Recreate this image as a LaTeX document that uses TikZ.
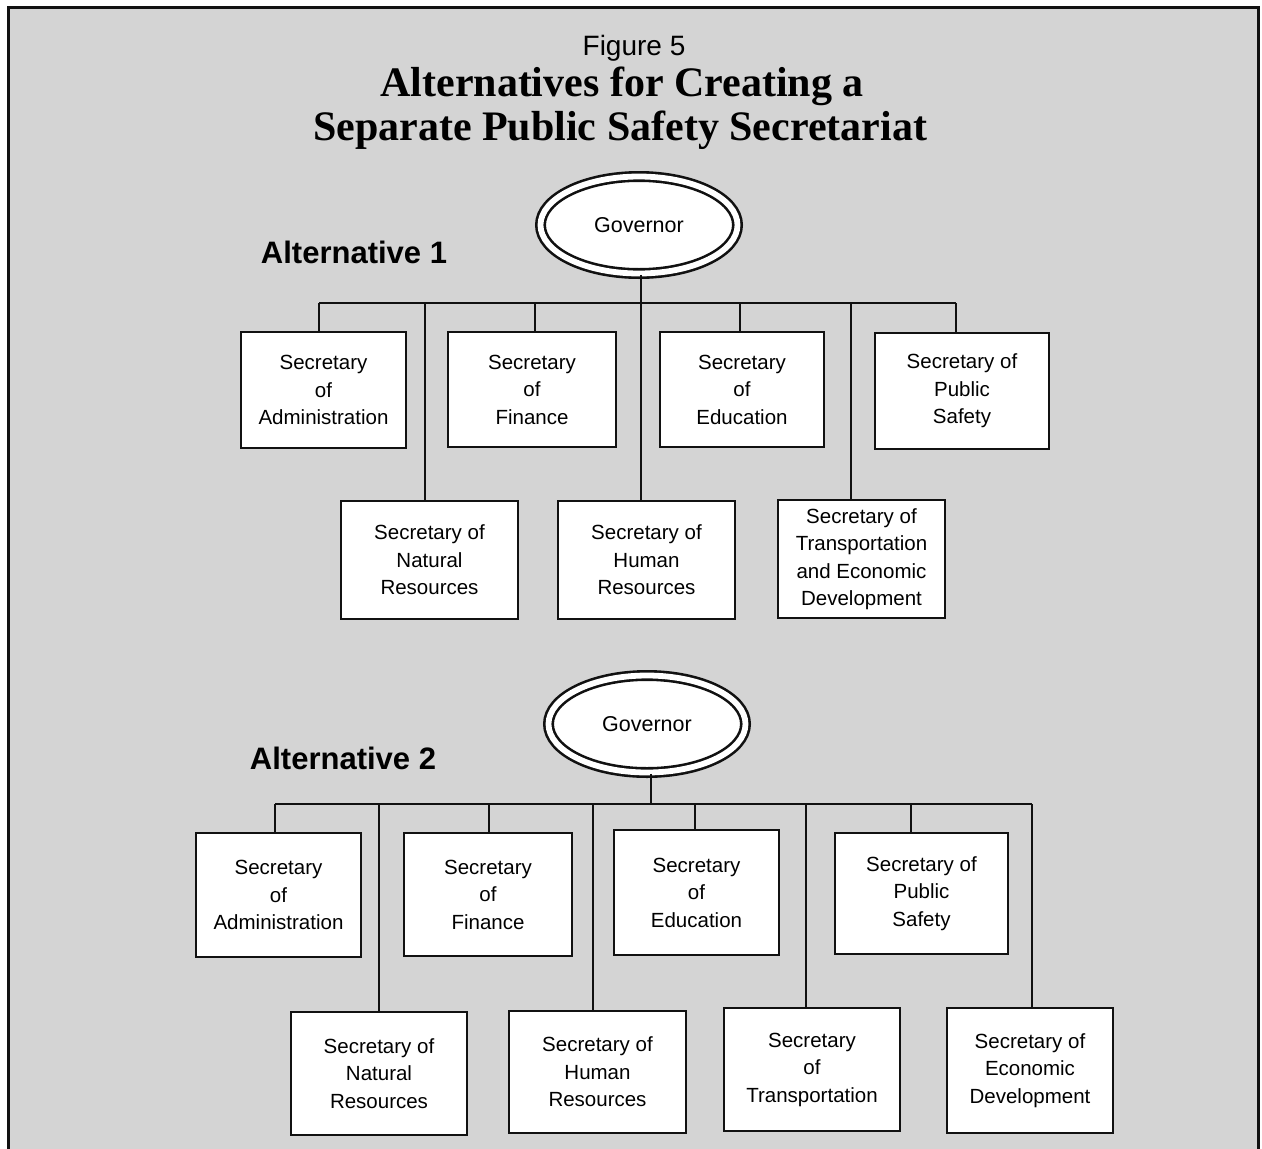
\documentclass[tikz,border=0pt]{standalone}
\usepackage{fontspec}
\setmainfont{Liberation Sans}
\newfontfamily\titleserif{Liberation Serif}
\usepackage{tikz}
\usetikzlibrary{shapes.geometric}
\definecolor{ink}{HTML}{111111}
\definecolor{paper}{HTML}{D4D4D4}
\newcommand{\secfont}{\fontsize{20.5pt}{27.5pt}\selectfont}
\tikzset{
  box/.style={rectangle, draw=ink, fill=white, line width=2.5pt, inner sep=2pt,
              align=center, font=\secfont},
  gov/.style={ellipse, draw=ink, line width=2.6pt, double=white, double distance=5.8pt,
              fill=white, minimum width=197pt, minimum height=97pt, inner sep=0pt,
              font=\fontsize{21.5pt}{26pt}\selectfont},
  conn/.style={line width=2.4pt, draw=ink},
  altlabel/.style={anchor=base, font=\fontsize{31pt}{36pt}\selectfont\bfseries},
  headline/.style={anchor=base, font=\titleserif\bfseries\fontsize{42pt}{44pt}\selectfont},
}

\begin{document}
\begin{tikzpicture}[x=1pt, y=-1pt]
      \useasboundingbox (0,0) rectangle (1262,1149);
      \fill[paper] (8,7) rectangle (1258,1149);
      \draw[ink, line width=3pt] (8,1149) -- (8,7) -- (1258,7) -- (1258,1149);

      % heading
      \node[anchor=base, font=\fontsize{28pt}{32pt}\selectfont] (fig) at (634,55) {Figure 5};
      \node[headline] (title1) at (622,96) {Alternatives for Creating a};
      \node[headline] (title2) at (620,140) {Separate Public Safety Secretariat};

      % alternative 1
      \node[altlabel] (alt1) at (354,263) {Alternative 1};
      \node[gov] (gov1) at (639,225) {Governor};
      \node[box, minimum width=165pt, minimum height=116pt] (a1adm) at (323.5,390) {Secretary\\of\\Administration};
      \node[box, minimum width=168pt, minimum height=115pt] (a1fin) at (532,389.5) {Secretary\\of\\Finance};
      \node[box, minimum width=164pt, minimum height=115pt] (a1edu) at (742,389.5) {Secretary\\of\\Education};
      \node[box, minimum width=174pt, minimum height=116pt] (a1saf) at (962,391) {Secretary of\\Public\\Safety};
      \node[box, minimum width=177pt, minimum height=118pt] (a1nat) at (429.5,560) {Secretary of\\Natural\\Resources};
      \node[box, minimum width=177pt, minimum height=118pt] (a1hum) at (646.5,560) {Secretary of\\Human\\Resources};
      \node[box, minimum width=167pt, minimum height=118pt] (a1trn) at (861.5,559) {Secretary of\\Transportation\\and Economic\\Development};
      \coordinate (bar1) at (641,303);
      \draw[conn] ([xshift=2pt]gov1.south) -- ([xshift=2pt]gov1.south |- bar1);
      \draw[conn] ([xshift=-4.5pt]a1adm.north |- bar1) -- ([xshift=-6pt]a1saf.north |- bar1);
      \draw[conn] ([xshift=-4.5pt]a1adm.north) -- ([xshift=-4.5pt]a1adm.north |- bar1);
      \draw[conn] ([xshift=3pt]a1fin.north) -- ([xshift=3pt]a1fin.north |- bar1);
      \draw[conn] ([xshift=-2pt]a1edu.north) -- ([xshift=-2pt]a1edu.north |- bar1);
      \draw[conn] ([xshift=-6pt]a1saf.north) -- ([xshift=-6pt]a1saf.north |- bar1);
      \draw[conn] ([xshift=-4.5pt]a1nat.north) -- ([xshift=-4.5pt]a1nat.north |- bar1);
      \draw[conn] ([xshift=-5.5pt]a1hum.north) -- ([xshift=-5.5pt]a1hum.north |- bar1);
      \draw[conn] ([xshift=-10.5pt]a1trn.north) -- ([xshift=-10.5pt]a1trn.north |- bar1);

      % alternative 2
      \node[altlabel] (alt2) at (343,769) {Alternative 2};
      \node[gov] (gov2) at (647,724) {Governor};
      \node[box, minimum width=165pt, minimum height=124pt] (a2adm) at (278.5,895) {Secretary\\of\\Administration};
      \node[box, minimum width=168pt, minimum height=123pt] (a2fin) at (488,894.5) {Secretary\\of\\Finance};
      \node[box, minimum width=165pt, minimum height=125pt] (a2edu) at (696.5,892.5) {Secretary\\of\\Education};
      \node[box, minimum width=173pt, minimum height=121pt] (a2saf) at (921.5,893.5) {Secretary of\\Public\\Safety};
      \node[box, minimum width=176pt, minimum height=123pt] (a2nat) at (379,1073.5) {Secretary of\\Natural\\Resources};
      \node[box, minimum width=177pt, minimum height=122pt] (a2hum) at (597.5,1072) {Secretary of\\Human\\Resources};
      \node[box, minimum width=176pt, minimum height=123pt] (a2trn) at (812,1069.5) {Secretary\\of\\Transportation};
      \node[box, minimum width=166pt, minimum height=125pt] (a2eco) at (1030,1070.5) {Secretary of\\Economic\\Development};
      \coordinate (bar2) at (651,804);
      \draw[conn] ([xshift=4pt]gov2.south) -- ([xshift=4pt]gov2.south |- bar2);
      \draw[conn] ([xshift=-3.5pt]a2adm.north |- bar2) -- ([xshift=2pt]a2eco.north |- bar2);
      \draw[conn] ([xshift=-3.5pt]a2adm.north) -- ([xshift=-3.5pt]a2adm.north |- bar2);
      \draw[conn] ([xshift=1pt]a2fin.north) -- ([xshift=1pt]a2fin.north |- bar2);
      \draw[conn] ([xshift=-1.5pt]a2edu.north) -- ([xshift=-1.5pt]a2edu.north |- bar2);
      \draw[conn] ([xshift=-10.5pt]a2saf.north) -- ([xshift=-10.5pt]a2saf.north |- bar2);
      \draw[conn] (a2nat.north) -- (a2nat.north |- bar2);
      \draw[conn] ([xshift=-4.5pt]a2hum.north) -- ([xshift=-4.5pt]a2hum.north |- bar2);
      \draw[conn] ([xshift=-6pt]a2trn.north) -- ([xshift=-6pt]a2trn.north |- bar2);
      \draw[conn] ([xshift=2pt]a2eco.north) -- ([xshift=2pt]a2eco.north |- bar2);
    \end{tikzpicture}
\end{document}
